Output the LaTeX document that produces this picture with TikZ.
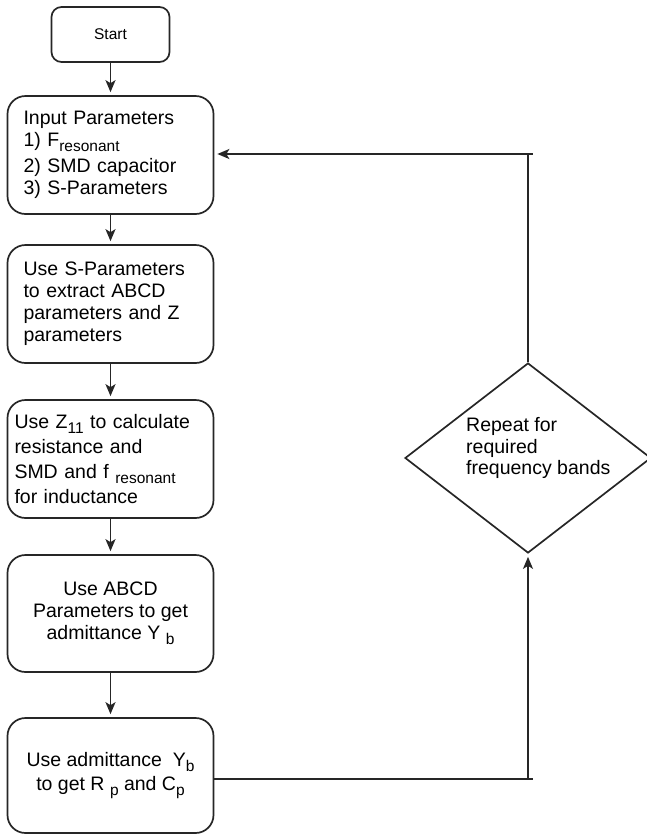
\documentclass[tikz,border=0pt]{standalone}
\usepackage{fontspec}
\setmainfont{Liberation Sans}
\usetikzlibrary{shapes.geometric,arrows.meta}
\newcommand{\subs}[1]{\raisebox{-5pt}{\fontsize{15.5}{15.5}\selectfont #1}}
\begin{document}
\begin{tikzpicture}[x=1pt,y=-1pt,
  ln/.style={line width=1.7pt, draw=black!85},
  box/.style={ln, rounded corners=18pt, minimum width=206pt, minimum height=118pt,
    font=\fontsize{19.5}{22}\selectfont, align=center},
  lbox/.style={box, align=left, inner xsep=16pt, text width=174pt},
  zbox/.style={box, align=left, inner xsep=7pt, text width=192pt, font=\fontsize{19.5}{25}\selectfont},
  arr/.style={ln, -{Stealth[length=12pt,width=10pt,inset=3pt]}, shorten >=3pt},
  dtext/.style={font=\fontsize{19.5}{21.5}\selectfont, align=left, inner sep=0pt, anchor=west}
]
\useasboundingbox (0,0) rectangle (646,836);
\node[ln, rounded corners=10pt, minimum width=118pt, minimum height=55pt,
  font=\fontsize{15.5}{18}\selectfont] (start) at (110.5,34.5) {Start};
\node[lbox] (in) at (110.5,155) {Input Parameters\\1) F\subs{resonant}\\[4pt]2) SMD capacitor\\3) S-Parameters};
\node[lbox] (sp) at (110.5,304) {Use S-Parameters\\to extract ABCD\\parameters and Z\\parameters};
\node[zbox] (z) at (110.5,459) {Use Z\subs{11} to calculate\\resistance and\\SMD and f \subs{resonant}\\for inductance};
\node[box, minimum height=117pt] (abcd) at (110.5,613.5) {Use ABCD\\Parameters to get\\admittance Y \subs{b}};
\node[box, minimum height=115pt] (adm) at (110.5,775.5) {Use admittance~~Y\subs{b}\\[2pt]to get R \subs{p} and C\subs{p}};
\node[ln, diamond, minimum width=246pt, minimum height=190pt, inner sep=0pt] (dia) at (528,458) {};
\node[dtext] (rtxt) at (466,448) {Repeat for\\required\\frequency bands};
\coordinate (c1) at (528,779);
\coordinate (c2) at (528,154);
\draw[arr] (start) -- (in);
\draw[arr] (in) -- (sp);
\draw[arr] (sp) -- (z);
\draw[arr] (z) -- (abcd);
\draw[arr] (abcd) -- (adm);
\draw[ln] ([yshift=-3.5pt]adm.east) -- ([xshift=5pt]c1);
\draw[arr] (c1) -- (dia.south);
\draw[ln] (dia.north) -- (c2);
\draw[ln] (c2) -- ([xshift=5pt]c2);
\draw[arr] (c2) -- ([yshift=1pt]in.east);
\end{tikzpicture}
\end{document}
